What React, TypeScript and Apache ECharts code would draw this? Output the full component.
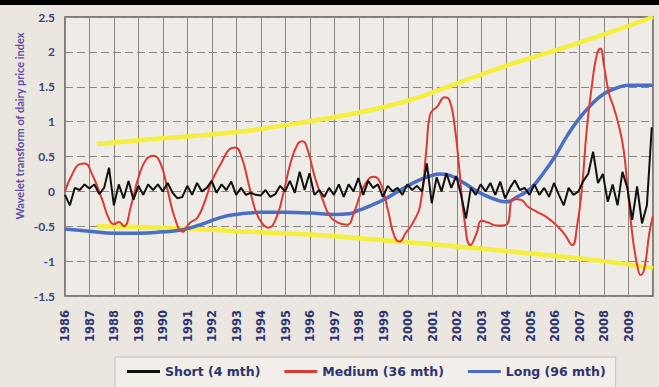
import React, { useEffect, useRef } from "react";
import * as echarts from "echarts";

const yearStart = 1986;
const yearEnd = 2010;

// Short (4 mth) component, evenly spaced samples 1986.0 .. 2009.95
const shortValues = [
  -0.05, -0.2, 0.05, 0.02, 0.1, 0.04, 0.1, -0.04, 0.05, 0.34,
  -0.2, 0.1, -0.1, 0.15, -0.12, 0.08, -0.05, 0.1, 0.02, 0.1,
  0.0, 0.12, -0.02, -0.1, -0.08, 0.08, -0.05, 0.12, 0.0, 0.05,
  0.15, -0.02, 0.1, 0.02, 0.14, -0.05, 0.05, -0.05, -0.02, -0.05,
  -0.06, 0.02, -0.08, -0.04, 0.08, 0.0, 0.15, -0.02, 0.28, 0.02,
  0.26, -0.05, 0.02, -0.08, 0.05, -0.05, 0.1, -0.08, 0.1, 0.0,
  0.19, -0.05, 0.15, 0.05, 0.1, -0.08, 0.08, 0.0, 0.05, -0.05,
  0.1, 0.02, 0.08, 0.0, 0.4, -0.17, 0.2, 0.0, 0.26, 0.05,
  0.22, -0.05, -0.39, 0.05, -0.05, 0.1, 0.0, 0.12, -0.05, 0.14,
  -0.1, 0.05, 0.16, 0.02, 0.05, -0.05, 0.1, -0.05, 0.05, -0.08,
  0.12, -0.05, -0.2, 0.05, -0.05, 0.0, 0.15, 0.25, 0.57, 0.12,
  0.25, -0.15, 0.1, -0.2, 0.28, 0.05, -0.41, 0.07, -0.46, -0.2,
  0.92,
];
const shortFirst = 1986.0;
const shortLast = 2009.95;

const mediumYears = [
  1986.0, 1986.3, 1986.6, 1986.8, 1987.1, 1987.5, 1987.8, 1988.0, 1988.2, 1988.4,
  1988.7, 1989.0, 1989.3, 1989.6, 1989.9, 1990.2, 1990.5, 1990.8, 1991.1, 1991.4,
  1991.7, 1992.0, 1992.4, 1992.7, 1992.95, 1993.2, 1993.5, 1993.8, 1994.1, 1994.3,
  1994.6, 1994.9, 1995.2, 1995.5, 1995.7, 1995.9, 1996.2, 1996.5, 1996.8, 1997.1,
  1997.5, 1997.8, 1998.1, 1998.4, 1998.6, 1998.9, 1999.2, 1999.45, 1999.65, 1999.9,
  2000.2, 2000.5, 2000.75, 2000.9, 2001.2, 2001.5, 2001.7, 2001.9, 2002.1, 2002.3,
  2002.55, 2002.8, 2003.0, 2003.3, 2003.6, 2004.0, 2004.3, 2004.6, 2004.9, 2005.3,
  2005.7, 2006.1, 2006.4, 2006.7, 2006.9, 2007.1, 2007.3, 2007.5, 2007.7, 2007.85,
  2008.0, 2008.2, 2008.4, 2008.6, 2008.8, 2008.95, 2009.15, 2009.35, 2009.5, 2009.65,
  2009.85, 2010.0,
];
const mediumValues = [
  0.0, 0.25, 0.39, 0.4, 0.25, -0.1, -0.4, -0.47, -0.44, -0.5,
  -0.2, 0.2, 0.45, 0.51, 0.4, 0.0, -0.4, -0.58, -0.45, -0.38,
  -0.15, 0.15, 0.42, 0.6, 0.63, 0.5, 0.1, -0.3, -0.48, -0.52,
  -0.4, -0.05, 0.4, 0.68, 0.72, 0.6, 0.2, -0.1, -0.35, -0.44,
  -0.48, -0.3, 0.0, 0.18, 0.21, 0.1, -0.3, -0.65, -0.72, -0.6,
  -0.45, -0.2, 0.6, 1.1, 1.22, 1.35, 1.3, 0.95, 0.3, -0.4,
  -0.77, -0.6, -0.42, -0.45, -0.49, -0.48, -0.11, -0.12, -0.22, -0.3,
  -0.38, -0.5, -0.62, -0.77, -0.5, 0.05, 0.9, 1.5, 1.95, 2.05,
  1.8, 1.41, 1.2, 0.95, 0.6, 0.1, -0.6, -1.05, -1.2, -1.1,
  -0.6, -0.35,
];

const longYears = [
  1986.0, 1987.0, 1988.0, 1989.0, 1990.0, 1990.8, 1991.5, 1992.3, 1993.0, 1994.0,
  1995.0, 1996.0, 1997.0, 1997.6, 1998.0, 1998.5, 1999.0, 1999.5, 2000.0, 2000.5,
  2001.0, 2001.3, 2001.7, 2002.1, 2002.6, 2003.1, 2003.6, 2004.0, 2004.5, 2005.0,
  2005.5, 2006.0, 2006.5, 2007.0, 2007.5, 2008.0, 2008.5, 2009.0, 2010.0,
];
const longValues = [
  -0.54, -0.57, -0.6, -0.6, -0.58, -0.55, -0.48, -0.38, -0.33, -0.3,
  -0.3, -0.31, -0.33, -0.32, -0.27, -0.2, -0.12, -0.02, 0.08, 0.17,
  0.23, 0.25, 0.23, 0.16, 0.05, -0.05, -0.12, -0.15, -0.07, 0.04,
  0.25, 0.5, 0.8, 1.05, 1.25, 1.4, 1.48, 1.52, 1.52,
];

const upperYears = [1987.3, 1990, 1993, 1995, 1998, 2000, 2002, 2004, 2006, 2008, 2010];
const upperValues = [0.68, 0.76, 0.85, 0.95, 1.13, 1.3, 1.55, 1.8, 2.02, 2.25, 2.5];

const lowerYears = [1987.3, 1990, 1993, 1996, 1999, 2002, 2005, 2008, 2010];
const lowerValues = [-0.5, -0.52, -0.57, -0.62, -0.7, -0.79, -0.89, -1.0, -1.1];

const legendNames = ["Short (4 mth)", "Medium (36 mth)", "Long (96 mth)"];
const yAxisTitle = "Wavelet transform of dairy price index";

const pair = (xs: number[], ys: number[]) => xs.map((x, i) => [x, ys[i]]);

export default function App() {
  const ref = useRef<HTMLDivElement>(null);
  useEffect(() => {
    document.body.style.margin = "0";
    const chart = echarts.init(ref.current!, null, { renderer: "svg" });
    const n = shortValues.length;
    const shortData = shortValues.map((v, i) => [
      shortFirst + (i * (shortLast - shortFirst)) / (n - 1),
      v,
    ]);
    const font = "Lato, 'Open Sans', sans-serif";
    const wide = "'DejaVu Sans', sans-serif";
    chart.setOption({
      animation: false,
      backgroundColor: "#ebe6e0",
      grid: {
        left: 65,
        top: 17,
        right: 6,
        bottom: 91,
        show: true,
        backgroundColor: "#efebe6",
        borderColor: "#5f5b57",
        borderWidth: 1.5,
      },
      graphic: [
        {
          type: "rect",
          left: 0,
          top: 0,
          shape: { width: 659, height: 5 },
          style: { fill: "#000" },
        },
        {
          type: "text",
          x: 19,
          y: 126,
          rotation: Math.PI / 2,
          style: {
            text: yAxisTitle,
            fill: "#5a4ea6",
            font: `bold 11px ${font}`,
            textAlign: "center",
            textVerticalAlign: "middle",
          },
        },
      ],
      legend: {
        data: legendNames,
        left: 115,
        top: 357,
        padding: [8, 10, 10, 12],
        itemWidth: 33,
        itemHeight: 3,
        itemGap: 24,
        icon: "rect",
        borderColor: "#c4beb6",
        borderWidth: 1,
        backgroundColor: "#f2eee9",
        textStyle: { fontFamily: wide, fontWeight: "bold", fontSize: 12.5, color: "#2c3470" },
      },
      xAxis: {
        type: "value",
        min: yearStart,
        max: yearEnd,
        interval: 1,
        axisLine: { show: false },
        axisTick: { show: false },
        axisLabel: {
          rotate: 90,
          margin: 14,
          fontFamily: wide,
          fontWeight: "bold",
          fontSize: 11.5,
          color: "#2c3470",
          formatter: (v: number) => (v >= yearEnd ? "" : String(v)),
        },
        splitLine: { show: true, lineStyle: { color: "#8d8782", width: 1, type: "solid" } },
      },
      yAxis: {
        type: "value",
        min: -1.5,
        max: 2.5,
        interval: 0.5,
        axisLine: { show: false },
        axisTick: { show: false },
        axisLabel: {
          margin: 10,
          fontFamily: font,
          fontWeight: "bold",
          fontSize: 12,
          color: "#3b4478",
        },
        splitLine: { show: true, lineStyle: { color: "#8d8782", width: 1, type: [8, 4] } },
      },
      series: [
        {
          name: "Upper",
          type: "line",
          data: pair(upperYears, upperValues),
          smooth: true,
          showSymbol: false,
          lineStyle: { color: "#f4ee3c", width: 4.5 },
          itemStyle: { color: "#f4ee3c" },
          z: 1,
        },
        {
          name: "Lower",
          type: "line",
          data: pair(lowerYears, lowerValues),
          smooth: true,
          showSymbol: false,
          lineStyle: { color: "#f4ee3c", width: 4.5 },
          itemStyle: { color: "#f4ee3c" },
          z: 1,
        },
        {
          name: legendNames[2],
          type: "line",
          data: pair(longYears, longValues),
          smooth: true,
          showSymbol: false,
          lineStyle: { color: "#4a6fc2", width: 3.5 },
          itemStyle: { color: "#4a6fc2" },
          z: 2,
        },
        {
          name: legendNames[1],
          type: "line",
          data: pair(mediumYears, mediumValues),
          smooth: true,
          showSymbol: false,
          lineStyle: { color: "#dc3a35", width: 2 },
          itemStyle: { color: "#dc3a35" },
          z: 3,
        },
        {
          name: legendNames[0],
          type: "line",
          data: shortData,
          smooth: false,
          showSymbol: false,
          lineStyle: { color: "#111111", width: 2 },
          itemStyle: { color: "#111111" },
          z: 4,
        },
      ],
    });
    return () => chart.dispose();
  }, []);
  return (
    <div
      ref={ref}
      style={{ width: 659, height: 387, position: "absolute", left: 0, top: 0 }}
    />
  );
}
